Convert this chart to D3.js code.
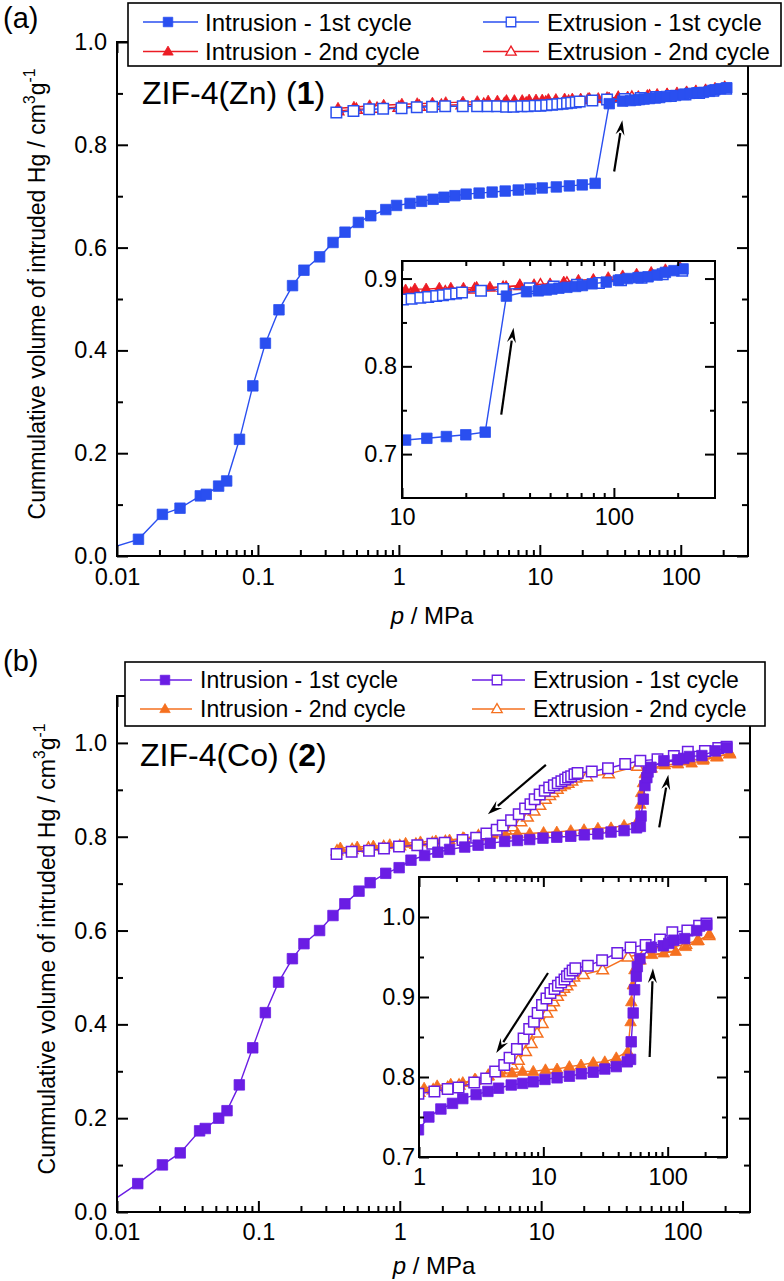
<!DOCTYPE html>
<html><head><meta charset="utf-8">
<script src="https://cdn.jsdelivr.net/npm/d3@7"></script>
<style>
body{margin:0;background:#fff}
svg{display:block}
text{font-family:"Liberation Sans",Arial,Helvetica,sans-serif;fill:#000}
</style>
</head><body>
<svg id="c" width="784" height="1281"></svg>
<script>
// ================= DATA =================
// Panel (a) ZIF-4(Zn)
const znInt1P = [0.006, 0.0142, 0.021, 0.028, 0.039, 0.043, 0.0526, 0.060, 0.074, 0.092, 0.113, 0.141, 0.176, 0.212, 0.274, 0.341, 0.415, 0.516, 0.632, 0.808, 0.963, 1.2, 1.45, 1.75, 2.09, 2.5, 3.0, 3.71, 4.59, 5.68, 7.03, 8.56, 10.4, 13.1, 16.2, 20, 24.7, 31.1, 38.7, 44, 48, 51, 55, 60, 66, 71, 79, 92, 105, 116, 130, 145, 160, 175, 192, 212];
const znInt1V = [0.0, 0.0325, 0.081, 0.093, 0.117, 0.120, 0.136, 0.146, 0.227, 0.331, 0.414, 0.479, 0.526, 0.556, 0.582, 0.610, 0.630, 0.649, 0.662, 0.674, 0.682, 0.686, 0.690, 0.694, 0.698, 0.701, 0.704, 0.706, 0.708, 0.710, 0.712, 0.714, 0.716, 0.718, 0.720, 0.722, 0.725, 0.880, 0.885, 0.886, 0.887, 0.888, 0.889, 0.890, 0.891, 0.892, 0.894, 0.896, 0.898, 0.900, 0.901, 0.902, 0.904, 0.907, 0.909, 0.911];
const znExt1P = [0.36, 0.476, 0.615, 0.773, 1.045, 1.34, 1.72, 2.13, 2.84, 3.59, 4.27, 4.98, 5.77, 6.5, 7.4, 8.2, 9.2, 10.1, 11.1, 12.2, 13.3, 14.5, 15.6, 16.7, 18.0, 19.2, 23.6, 30, 40, 52, 67, 85, 108, 135, 170, 210];
const znExt1V = [0.863, 0.866, 0.869, 0.870, 0.871, 0.873, 0.874, 0.875, 0.875, 0.875, 0.875, 0.875, 0.874, 0.874, 0.875, 0.875, 0.876, 0.876, 0.877, 0.878, 0.879, 0.880, 0.881, 0.882, 0.883, 0.884, 0.886, 0.888, 0.889, 0.891, 0.893, 0.895, 0.898, 0.901, 0.905, 0.909];
const znInt2P = [0.37, 0.48, 0.62, 0.78, 1.05, 1.35, 1.73, 2.15, 2.85, 3.6, 4.3, 5.0, 5.8, 6.6, 7.5, 8.4, 9.4, 10.4, 11.5, 13, 15, 17, 19.5, 22.5, 26, 31, 36, 42, 50, 58, 68, 80, 94, 110, 128, 150, 175, 205];
const znInt2V = [0.871, 0.873, 0.876, 0.877, 0.879, 0.880, 0.881, 0.882, 0.883, 0.884, 0.885, 0.885, 0.886, 0.886, 0.886, 0.887, 0.887, 0.887, 0.888, 0.888, 0.889, 0.889, 0.889, 0.890, 0.890, 0.891, 0.892, 0.893, 0.894, 0.896, 0.898, 0.899, 0.901, 0.903, 0.905, 0.907, 0.910, 0.913];
const znExt2P = [0.37, 0.5, 0.7, 1.0, 1.4, 2, 2.8, 4, 5.6, 8, 11, 16, 22, 30, 36, 45, 60, 80, 110, 150, 205];
const znExt2V = [0.866, 0.869, 0.871, 0.873, 0.875, 0.877, 0.878, 0.879, 0.880, 0.881, 0.883, 0.885, 0.888, 0.890, 0.892, 0.893, 0.895, 0.897, 0.900, 0.904, 0.910];
const znArrowMain = [[33.7, 0.748], [38.5, 0.848]];
const znArrowInset = [[29.4, 0.745], [33.6, 0.844]];

// Panel (b) ZIF-4(Co)
const coInt1P = [0.008, 0.01402, 0.02095, 0.028, 0.0384, 0.0421, 0.0524, 0.060, 0.0733, 0.0912, 0.112, 0.139, 0.174, 0.210, 0.271, 0.337, 0.409, 0.515, 0.617, 0.796, 0.99, 1.20, 1.50, 1.86, 2.25, 2.88, 3.58, 4.36, 5.52, 6.8, 8.3, 10.3, 12.9, 16.2, 20.2, 25.2, 31.2, 38.6, 47.3, 50.3, 50.9, 52.8, 54.2, 55.9, 57, 59.8, 73.8, 92.2, 102, 112, 137, 171, 206];
const coInt1V = [0.0108, 0.0605, 0.1004, 0.126, 0.173, 0.178, 0.200, 0.216, 0.271, 0.350, 0.425, 0.490, 0.540, 0.572, 0.600, 0.632, 0.657, 0.684, 0.702, 0.722, 0.734, 0.750, 0.760, 0.767, 0.773, 0.778, 0.782, 0.786, 0.790, 0.792, 0.794, 0.797, 0.799, 0.801, 0.804, 0.806, 0.810, 0.813, 0.819, 0.822, 0.844, 0.880, 0.909, 0.926, 0.938, 0.948, 0.962, 0.964, 0.967, 0.971, 0.973, 0.983, 0.990];
const coExt1P = [0.357, 0.457, 0.606, 0.773, 0.988, 1.33, 1.70, 2.08, 2.78, 3.47, 4.10, 4.85, 5.35, 6.13, 6.94, 7.7, 8.4, 9.0, 9.76, 10.6, 11.4, 12.3, 13.1, 13.9, 14.8, 15.5, 16.3, 17.2, 18.1, 22.8, 29.7, 39.3, 50.3, 66.5, 86.8, 109, 144, 179, 205];
const coExt1V = [0.763, 0.768, 0.770, 0.775, 0.779, 0.782, 0.785, 0.787, 0.793, 0.798, 0.807, 0.815, 0.824, 0.835, 0.848, 0.860, 0.869, 0.880, 0.890, 0.898, 0.905, 0.910, 0.914, 0.918, 0.922, 0.926, 0.929, 0.933, 0.936, 0.939, 0.946, 0.955, 0.962, 0.965, 0.972, 0.981, 0.983, 0.989, 0.992];
const coInt2P = [0.38, 0.5, 0.65, 0.85, 1.1, 1.4, 1.8, 2.25, 2.85, 3.6, 4.5, 5.6, 6.8, 8.3, 10.4, 12.9, 16.2, 20.1, 25.2, 31.2, 38.6, 47.8, 50.3, 51, 52.5, 54, 60.5, 75, 93, 116, 140, 175, 217];
const coInt2V = [0.776, 0.778, 0.780, 0.783, 0.786, 0.789, 0.791, 0.793, 0.797, 0.801, 0.805, 0.805, 0.807, 0.807, 0.809, 0.810, 0.813, 0.815, 0.818, 0.819, 0.824, 0.832, 0.869, 0.894, 0.915, 0.934, 0.946, 0.953, 0.955, 0.957, 0.963, 0.970, 0.978];
const coExt2P = [0.36, 0.46, 0.6, 0.77, 1.0, 1.3, 1.7, 2.1, 2.8, 3.6, 4.5, 5.6, 6.3, 7.2, 8.0, 8.9, 9.8, 10.7, 11.5, 12.1, 13.0, 13.7, 14.6, 15.5, 16.5, 17.6, 21, 30, 48, 65, 85, 108, 140, 175, 215];
const coExt2V = [0.770, 0.773, 0.776, 0.779, 0.781, 0.784, 0.787, 0.790, 0.796, 0.802, 0.809, 0.815, 0.821, 0.832, 0.842, 0.855, 0.867, 0.880, 0.888, 0.894, 0.901, 0.907, 0.911, 0.914, 0.919, 0.925, 0.928, 0.934, 0.950, 0.955, 0.958, 0.962, 0.966, 0.971, 0.977];
const coArrowsMain = [[[10.8, 0.953], [4.2, 0.848]], [[68.4, 0.820], [79.3, 0.932]]];
const coArrowsInset = [[[10.9, 0.930], [4.18, 0.830]], [[71.6, 0.825], [76.1, 0.936]]];

// Ticks / labels
const mainXTicks = [0.01, 0.1, 1, 10, 100];
const mainXLabels = ["0.01", "0.1", "1", "10", "100"];
const mainYTicks = [0, 0.2, 0.4, 0.6, 0.8, 1.0];
const mainYLabels = ["0.0", "0.2", "0.4", "0.6", "0.8", "1.0"];
const mainYMinor = [0.1, 0.3, 0.5, 0.7, 0.9];
const znInsetXTicks = [10, 100];
const znInsetXLabels = ["10", "100"];
const znInsetYTicks = [0.7, 0.8, 0.9];
const znInsetYLabels = ["0.7", "0.8", "0.9"];
const znInsetYMinor = [0.75, 0.85];
const coInsetXTicks = [1, 10, 100];
const coInsetXLabels = ["1", "10", "100"];
const coInsetYTicks = [0.7, 0.8, 0.9, 1.0];
const coInsetYLabels = ["0.7", "0.8", "0.9", "1.0"];
const coInsetYMinor = [0.75, 0.85, 0.95];

const legendLabels = ["Intrusion - 1st cycle", "Extrusion - 1st cycle", "Intrusion - 2nd cycle", "Extrusion - 2nd cycle"];

// ================= DRAWING =================
const svg = d3.select('#c');
const BLUE = '#2a4ff0', RED = '#ec1c24', PURPLE = '#6a1de4', ORANGE = '#f5701f';

function minorLog(lo, hi) {
  const out = [];
  for (let e = Math.floor(Math.log10(lo)); e <= Math.ceil(Math.log10(hi)); e++) {
    for (let k = 2; k <= 9; k++) { const v = k * Math.pow(10, e); if (v > lo * 1.0001 && v < hi * 0.9999) out.push(v); }
  }
  return out;
}

function markerPath(shape, s) {
  if (shape === 'sq') return `M${-s/2},${-s/2}h${s}v${s}h${-s}Z`;
  const h = s * 0.95;
  return `M0,${-h*0.6}L${s*0.55},${h*0.4}L${-s*0.55},${h*0.4}Z`;
}

let clipId = 0;
function makePlot(o) {
  const g = svg.append('g').attr('transform', `translate(${o.x0},${o.y0})`);
  const w = o.x1 - o.x0, h = o.y1 - o.y0;
  const x = d3.scaleLog().domain(o.xd).range([0, w]);
  const y = d3.scaleLinear().domain(o.yd).range([h, 0]);
  if (o.bg) g.append('rect').attr('width', w).attr('height', h).attr('fill', '#fff');
  const id = 'clip' + (clipId++);
  g.append('clipPath').attr('id', id).append('rect').attr('width', w).attr('height', h);
  const data = g.append('g').attr('clip-path', `url(#${id})`);
  const fs = o.fs;
  function styleAxis(sel) {
    sel.select('.domain').remove();
    sel.selectAll('line').attr('stroke', '#000').attr('stroke-width', 2);
    sel.selectAll('text').style('font-size', fs + 'px').attr('fill', '#000');
  }
  const fmtX = d => o.xLabels[o.xTicks.indexOf(d)];
  const fmtY = d => o.yLabels[o.yTicks.findIndex(t => Math.abs(t - d) < 1e-9)];
  const xMinor = minorLog(o.xd[0], o.xd[1]);
  g.append('g').attr('transform', `translate(0,${h})`)
    .call(d3.axisBottom(x).tickValues(o.xTicks).tickFormat(fmtX).tickSize(-o.maj).tickSizeOuter(0).tickPadding(o.xPad)).call(styleAxis);
  g.append('g').attr('transform', `translate(0,${h})`)
    .call(d3.axisBottom(x).tickValues(xMinor).tickFormat('').tickSize(-o.min).tickSizeOuter(0)).call(styleAxis);
  g.append('g').call(d3.axisTop(x).tickValues(o.xTicks).tickFormat('').tickSize(-o.maj).tickSizeOuter(0)).call(styleAxis);
  g.append('g').call(d3.axisTop(x).tickValues(xMinor).tickFormat('').tickSize(-o.min).tickSizeOuter(0)).call(styleAxis);
  g.append('g').call(d3.axisLeft(y).tickValues(o.yTicks).tickFormat(fmtY).tickSize(-o.maj).tickSizeOuter(0).tickPadding(o.yPad)).call(styleAxis);
  g.append('g').call(d3.axisLeft(y).tickValues(o.yMinor).tickFormat('').tickSize(-o.min).tickSizeOuter(0)).call(styleAxis);
  g.append('g').attr('transform', `translate(${w},0)`).call(d3.axisRight(y).tickValues(o.yTicks).tickFormat('').tickSize(-o.maj).tickSizeOuter(0)).call(styleAxis);
  g.append('g').attr('transform', `translate(${w},0)`).call(d3.axisRight(y).tickValues(o.yMinor).tickFormat('').tickSize(-o.min).tickSizeOuter(0)).call(styleAxis);
  g.append('rect').attr('width', w).attr('height', h).attr('fill', 'none').attr('stroke', '#000').attr('stroke-width', 2);

  o.series.forEach(s => {
    const pts = s.P.map((p, i) => [p, s.V[i]]);
    data.append('path').attr('d', d3.line().x(d => x(d[0])).y(d => y(d[1]))(pts))
      .attr('fill', 'none').attr('stroke', s.color).attr('stroke-width', 1.4);
    data.selectAll(null).data(pts).enter().append('path')
      .attr('transform', d => `translate(${x(d[0])},${y(d[1])})`)
      .attr('d', markerPath(s.shape, o.ms))
      .attr('fill', s.open ? '#fff' : s.color)
      .attr('stroke', s.color).attr('stroke-width', s.open ? 1.5 : 0.8);
  });
  o.arrows.forEach(a => drawArrow(g, x(a[0][0]), y(a[0][1]), x(a[1][0]), y(a[1][1])));
  return {g, x, y};
}

function drawArrow(g, xa, ya, xb, yb) {
  const ang = Math.atan2(yb - ya, xb - xa);
  const L = 15, Wd = 4.5;
  const bx = xb - L * Math.cos(ang), by = yb - L * Math.sin(ang);
  g.append('line').attr('x1', xa).attr('y1', ya).attr('x2', bx + 2 * Math.cos(ang)).attr('y2', by + 2 * Math.sin(ang))
    .attr('stroke', '#000').attr('stroke-width', 2.2);
  const px = -Math.sin(ang), py = Math.cos(ang);
  g.append('path').attr('d', `M${xb},${yb}L${bx + Wd*px},${by + Wd*py}L${bx + 0.35*L*Math.cos(ang)},${by + 0.35*L*Math.sin(ang)}L${bx - Wd*px},${by - Wd*py}Z`)
    .attr('fill', '#000');
}

function legend(o) {
  svg.append('rect').attr('x', o.bx0).attr('y', o.by0).attr('width', o.bx1 - o.bx0).attr('height', o.by1 - o.by0)
    .attr('fill', '#fff').attr('stroke', '#000').attr('stroke-width', 1.6);
  o.items.forEach((it, i) => {
    const col = i % 2, row = Math.floor(i / 2);
    const c = o.cols[col], yy = o.symY[row];
    svg.append('line').attr('x1', c.l1).attr('x2', c.l2).attr('y1', yy).attr('y2', yy).attr('stroke', it.color).attr('stroke-width', 1.4);
    svg.append('path').attr('transform', `translate(${c.m},${yy})`).attr('d', markerPath(it.shape, o.ms))
      .attr('fill', it.open ? '#fff' : it.color).attr('stroke', it.color).attr('stroke-width', it.open ? 1.3 : 0.8);
    svg.append('text').attr('x', c.t).attr('y', o.txtY[row]).style('font-size', o.fs + 'px').text(legendLabels[i]);
  });
}

function yLabel(cx, cy, fs) {
  const t = svg.append('text').attr('transform', `translate(${cx},${cy}) rotate(-90)`).attr('text-anchor', 'middle').style('font-size', fs + 'px');
  t.append('tspan').text('Cummulative volume of intruded Hg / cm');
  t.append('tspan').attr('dy', -fs * 0.42).style('font-size', (fs * 0.68) + 'px').text('3');
  t.append('tspan').attr('dy', fs * 0.42).text('g');
  t.append('tspan').attr('dy', -fs * 0.42).style('font-size', (fs * 0.68) + 'px').text('-1');
}

// ---------- Panel (a) ----------
const znSeries = [
  {P: znExt2P, V: znExt2V, color: RED, shape: 'tri', open: true},
  {P: znInt2P, V: znInt2V, color: RED, shape: 'tri', open: false},
  {P: znExt1P, V: znExt1V, color: BLUE, shape: 'sq', open: true},
  {P: znInt1P, V: znInt1V, color: BLUE, shape: 'sq', open: false}
];
makePlot({x0: 117, x1: 748, y0: 42, y1: 556, xd: [0.01, 300], yd: [0, 1.0],
  xTicks: mainXTicks, xLabels: mainXLabels, yTicks: mainYTicks, yLabels: mainYLabels, yMinor: mainYMinor,
  maj: 11, min: 6, xPad: 12.5, yPad: 10, fs: 23.5, ms: 10.5, series: znSeries, arrows: [znArrowMain]});
makePlot({x0: 402, x1: 715, y0: 261, y1: 498, xd: [10, 300], yd: [0.65, 0.92], bg: true,
  xTicks: znInsetXTicks, xLabels: znInsetXLabels, yTicks: znInsetYTicks, yLabels: znInsetYLabels, yMinor: znInsetYMinor,
  maj: 10, min: 5, xPad: 10.5, yPad: 5, fs: 23.5, ms: 10.5, series: znSeries, arrows: [znArrowInset]});
legend({bx0: 128, bx1: 781, by0: 3, by1: 66, fs: 24, ms: 9.5,
  cols: [{l1: 143, l2: 198, m: 168, t: 205}, {l1: 483, l2: 539, m: 511, t: 547}],
  symY: [22, 51.5], txtY: [30.5, 60],
  items: [{color: BLUE, shape: 'sq'}, {color: BLUE, shape: 'sq', open: true}, {color: RED, shape: 'tri'}, {color: RED, shape: 'tri', open: true}]});
svg.append('text').attr('x', 3).attr('y', 28).style('font-size', '29px').text('(a)');
{
  const t = svg.append('text').attr('x', 142).attr('y', 104).style('font-size', '32px');
  t.append('tspan').text('ZIF-4(Zn) (');
  t.append('tspan').style('font-weight', 'bold').text('1');
  t.append('tspan').text(')');
}
yLabel(45, 294, 23);
{
  const t = svg.append('text').attr('x', 432).attr('y', 624).attr('text-anchor', 'middle').style('font-size', '24px');
  t.append('tspan').style('font-style', 'italic').text('p');
  t.append('tspan').text(' / MPa');
}

// ---------- Panel (b) ----------
const coSeries = [
  {P: coExt2P, V: coExt2V, color: ORANGE, shape: 'tri', open: true},
  {P: coInt2P, V: coInt2V, color: ORANGE, shape: 'tri', open: false},
  {P: coExt1P, V: coExt1V, color: PURPLE, shape: 'sq', open: true},
  {P: coInt1P, V: coInt1V, color: PURPLE, shape: 'sq', open: false}
];
makePlot({x0: 117, x1: 750, y0: 696, y1: 1212, xd: [0.01, 300], yd: [0, 1.1],
  xTicks: mainXTicks, xLabels: mainXLabels, yTicks: mainYTicks, yLabels: mainYLabels, yMinor: mainYMinor,
  maj: 11, min: 6, xPad: 11.5, yPad: 10, fs: 23.5, ms: 10.5, series: coSeries, arrows: coArrowsMain});
makePlot({x0: 419, x1: 727, y0: 877, y1: 1157, xd: [1, 300], yd: [0.7, 1.05], bg: true,
  xTicks: coInsetXTicks, xLabels: coInsetXLabels, yTicks: coInsetYTicks, yLabels: coInsetYLabels, yMinor: coInsetYMinor,
  maj: 10, min: 5, xPad: 11.5, yPad: 4, fs: 23.5, ms: 10.5, series: coSeries, arrows: coArrowsInset});
legend({bx0: 125, bx1: 765, by0: 662, by1: 726, fs: 23, ms: 9.5,
  cols: [{l1: 140, l2: 192, m: 165, t: 200}, {l1: 472, l2: 525, m: 497, t: 533}],
  symY: [680, 709], txtY: [688, 717],
  items: [{color: PURPLE, shape: 'sq'}, {color: PURPLE, shape: 'sq', open: true}, {color: ORANGE, shape: 'tri'}, {color: ORANGE, shape: 'tri', open: true}]});
svg.append('text').attr('x', 3).attr('y', 671).style('font-size', '29px').text('(b)');
{
  const t = svg.append('text').attr('x', 140).attr('y', 766).style('font-size', '32px');
  t.append('tspan').text('ZIF-4(Co) (');
  t.append('tspan').style('font-weight', 'bold').text('2');
  t.append('tspan').text(')');
}
yLabel(55, 949, 23);
{
  const t = svg.append('text').attr('x', 434).attr('y', 1274).attr('text-anchor', 'middle').style('font-size', '24px');
  t.append('tspan').style('font-style', 'italic').text('p');
  t.append('tspan').text(' / MPa');
}
</script>
</body></html>
